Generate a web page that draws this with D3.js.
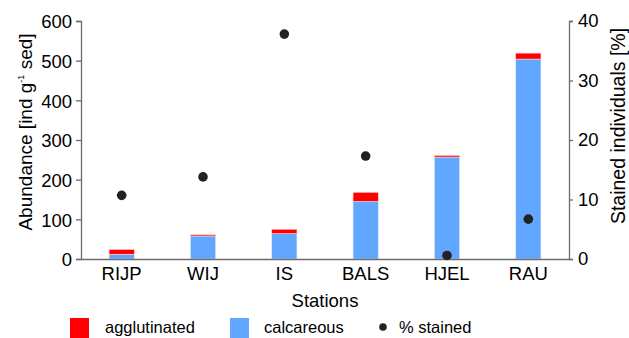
<!DOCTYPE html>
<html>
<head>
<meta charset="utf-8">
<script src="https://cdn.jsdelivr.net/npm/d3@7"></script>
<style>
  body { margin: 0; background: #fff; }
  text { font-family: Arial, "Liberation Sans", sans-serif; fill: #000; }
</style>
</head>
<body>
<script>
// data
const stations = ["RIJP", "WIJ", "IS", "BALS", "HJEL", "RAU"];
const calcareous = [12, 58, 64, 145, 257, 504];
const agglutinated = [12, 3, 11, 23, 4, 15];
const stained = [10.7, 13.8, 37.8, 17.3, 0.6, 6.7];
const leftTicks = [0, 100, 200, 300, 400, 500, 600];
const rightTicks = [0, 10, 20, 30, 40];

const width = 629, height = 338;
const margin = {top: 21, right: 60, bottom: 79, left: 81};

const svg = d3.select("body").append("svg")
  .attr("width", width)
  .attr("height", height);

const x = d3.scaleBand()
  .domain(stations)
  .range([margin.left, width - margin.right])
  .paddingInner(0.69)
  .paddingOuter(0.345);

const y = d3.scaleLinear()
  .domain([0, 600])
  .range([height - margin.bottom, margin.top]);

const y2 = d3.scaleLinear()
  .domain([0, 40])
  .range([height - margin.bottom, margin.top]);

const blue = "#61a6ff", red = "#ff0000";

// stacked bars
const bars = svg.append("g");
stations.forEach((s, i) => {
  bars.append("rect")
    .attr("x", x(s))
    .attr("width", x.bandwidth())
    .attr("y", y(calcareous[i]))
    .attr("height", y(0) - y(calcareous[i]))
    .attr("fill", blue)
    .attr("stroke", "#dbe9ff")
    .attr("stroke-width", 0.6);
  bars.append("rect")
    .attr("x", x(s))
    .attr("width", x.bandwidth())
    .attr("y", y(calcareous[i] + agglutinated[i]))
    .attr("height", y(calcareous[i]) - y(calcareous[i] + agglutinated[i]))
    .attr("fill", red)
    .attr("stroke", "#ffd0d0")
    .attr("stroke-width", 0.6);
});

// axes
const axisColor = "#6b6b6b";
const styleAxis = g => {
  g.selectAll("path, line").attr("stroke", axisColor).attr("stroke-width", 1.3);
  g.selectAll("text").attr("font-size", 18.5).attr("fill", "#000")
    .style("font-family", "Arial, 'Liberation Sans', sans-serif");
};

svg.append("g")
  .attr("transform", `translate(${margin.left},0)`)
  .call(d3.axisLeft(y).tickValues(leftTicks).tickSize(5).tickSizeOuter(5).tickPadding(4))
  .call(styleAxis)
  .call(g => g.selectAll(".tick text").attr("dy", "0.36em"));

svg.append("g")
  .attr("transform", `translate(${width - margin.right},0)`)
  .call(d3.axisRight(y2).tickValues(rightTicks).tickSize(4).tickSizeOuter(4).tickPadding(5))
  .call(styleAxis);

svg.append("g")
  .attr("transform", `translate(0,${height - margin.bottom})`)
  .call(d3.axisBottom(x).tickSize(0).tickSizeOuter(0).tickPadding(8))
  .call(styleAxis)
  .call(g => g.selectAll(".tick text").attr("dy", "0.71em"));

// dots for % stained
svg.append("g").selectAll("circle")
  .data(stations)
  .join("circle")
  .attr("cx", d => x(d) + x.bandwidth() / 2)
  .attr("cy", (d, i) => y2(stained[i]))
  .attr("r", 4.8)
  .attr("fill", "#222");

// axis titles
svg.append("text")
  .attr("x", (margin.left + width - margin.right) / 2)
  .attr("y", 307)
  .attr("text-anchor", "middle")
  .attr("font-size", 18.5)
  .text("Stations");

const leftTitle = svg.append("text")
  .attr("transform", "translate(32,132) rotate(-90)")
  .attr("text-anchor", "middle")
  .attr("font-size", 19);
leftTitle.append("tspan").text("Abundance [ind g");
leftTitle.append("tspan").attr("font-size", 9).attr("dy", -8).text("-1");
leftTitle.append("tspan").attr("dy", 8).text(" sed]");

svg.append("text")
  .attr("transform", "translate(625,126) rotate(-90)")
  .attr("text-anchor", "middle")
  .attr("font-size", 19.5)
  .text("Stained individuals [%]");

// legend
const legend = svg.append("g");
legend.append("rect").attr("x", 70).attr("y", 318).attr("width", 19).attr("height", 20).attr("fill", red);
legend.append("text").attr("x", 105).attr("y", 333).attr("font-size", 16.5).text("agglutinated");
legend.append("rect").attr("x", 230).attr("y", 318).attr("width", 19).attr("height", 20).attr("fill", blue);
legend.append("text").attr("x", 264).attr("y", 333).attr("font-size", 16.5).text("calcareous");
legend.append("circle").attr("cx", 383).attr("cy", 327).attr("r", 3.8).attr("fill", "#222");
legend.append("text").attr("x", 399).attr("y", 333).attr("font-size", 16.5).text("% stained");
</script>
</body>
</html>
